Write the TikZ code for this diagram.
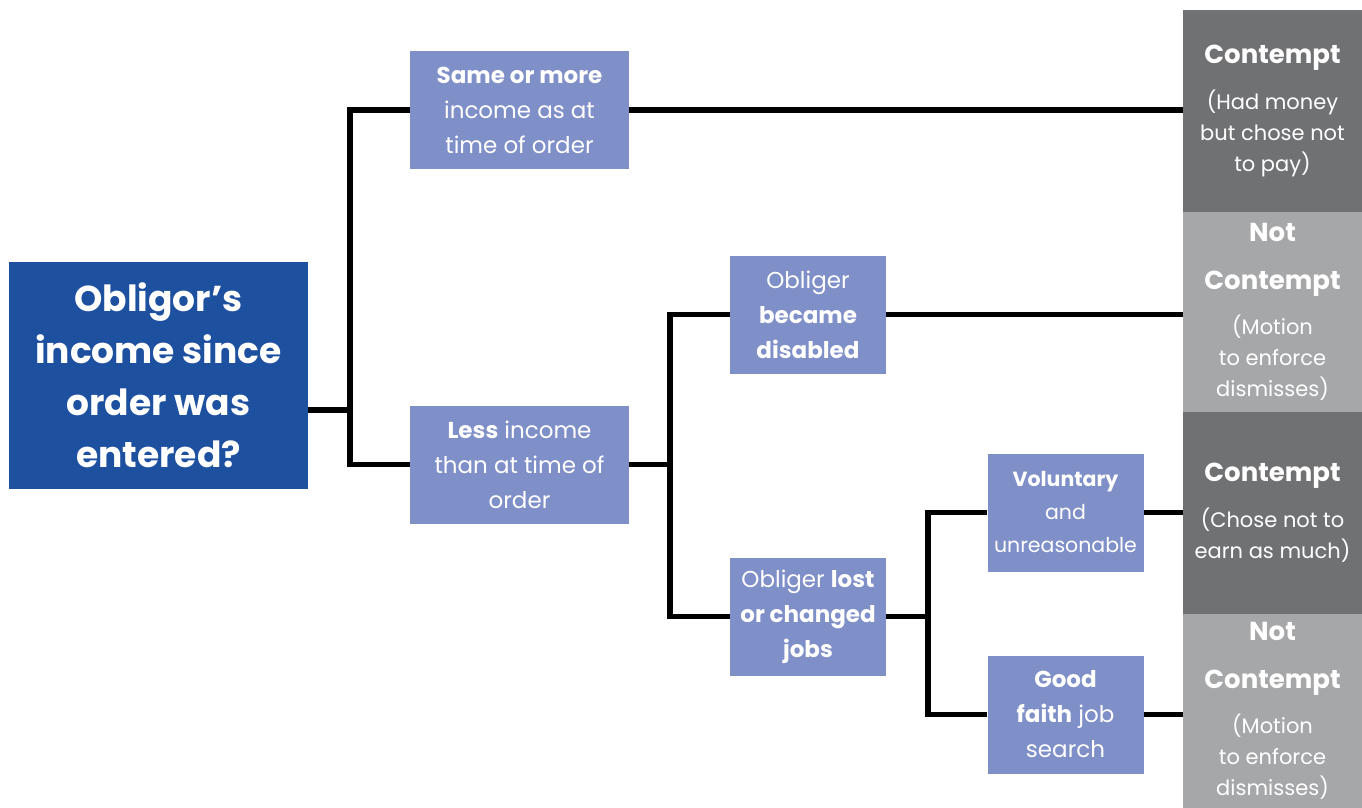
\documentclass[tikz,border=0pt]{standalone}
\usepackage{fontspec}
\setmainfont{Poppins}
\definecolor{rootblue}{HTML}{1E50A0}
\definecolor{boxblue}{HTML}{7F8FC8}
\definecolor{darkgrey}{HTML}{707173}
\definecolor{lightgrey}{HTML}{A6A7A9}
\begin{document}
\begin{tikzpicture}[x=1pt,y=-1pt,
   root/.style={fill=rootblue,text=white,align=center,inner sep=0pt,minimum width=299pt,minimum height=227pt,font=\fontsize{36}{52}\selectfont\bfseries},
   box/.style={fill=boxblue,text=white,align=center,inner sep=0pt,minimum width=219pt,minimum height=118pt,font=\fontsize{23}{35}\selectfont},
   smallbox/.style={box,minimum width=156pt},
   outcome/.style={text=white,align=center,inner sep=0pt,minimum width=179pt,font=\fontsize{21}{31}\selectfont},
   contempt/.style={outcome,fill=darkgrey},
   notcontempt/.style={outcome,fill=lightgrey},
   link/.style={line width=5.5pt}]
\useasboundingbox (0,0) rectangle (1362,808);
\node[root] (obligor) at (158.5,375.5) {Obligor’s\\income since\\order was\\entered?};
\node[box] (same) at (519.5,110) {\textbf{Same or more}\\income as at\\time of order};
\node[box] (less) at (519.5,464.5) {\textbf{Less} income\\than at time of\\order};
\node[smallbox] (disabled) at (808,314.5) {Obliger\\\textbf{became}\\\textbf{disabled}};
\node[smallbox] (lost) at (808,616.5) {Obliger \textbf{lost}\\\textbf{or changed}\\\textbf{jobs}};
\node[smallbox,font=\fontsize{20.5}{33}\selectfont] (voluntary) at (1065.5,512.5) {\textbf{Voluntary}\\and\\unreasonable};
\node[smallbox] (goodfaith) at (1065.5,714.5) {\textbf{Good}\\\textbf{faith} job\\search};
% outcomes
\node[contempt,minimum height=202pt] (c1) at (1272.5,111) {{\fontsize{26}{31}\selectfont\bfseries Contempt}\\[15pt](Had money\\but chose not\\to pay)};
\node[notcontempt,minimum height=200pt] (n1) at (1272.5,312) {{\fontsize{26}{31}\selectfont\bfseries Not}\\[17pt]{\fontsize{26}{31}\selectfont\bfseries Contempt}\\[14pt](Motion\\to enforce\\dismisses)};
\node[contempt,minimum height=202pt] (c2) at (1272.5,513) {{\fontsize{26}{31}\selectfont\bfseries Contempt}\\[15pt](Chose not to\\earn as much)};
\node[notcontempt,minimum height=194pt] (n2) at (1272.5,711) {{\fontsize{26}{31}\selectfont\bfseries Not}\\[17pt]{\fontsize{26}{31}\selectfont\bfseries Contempt}\\[14pt](Motion\\to enforce\\dismisses)};
% connectors
\coordinate (fork1) at (350,410);
\coordinate (fork2) at (670,464.5);
\coordinate (fork3) at (928,616.5);
\draw[link] (obligor.east |- fork1) -- (fork1) |- (same.west);
\draw[link] (fork1) |- (less.west);
\draw[link] (same.east) -- (same.east -| c1.west);
\draw[link] (less.east) -- (fork2) |- (disabled.west);
\draw[link] (fork2) |- (lost.west);
\draw[link] (disabled.east) -- (disabled.east -| n1.west);
\draw[link] (lost.east) -- (fork3) |- (voluntary.west);
\draw[link] (fork3) |- (goodfaith.west);
\draw[link] (voluntary.east) -- (voluntary.east -| c2.west);
\draw[link] (goodfaith.east) -- (goodfaith.east -| n2.west);
\end{tikzpicture}
\end{document}
